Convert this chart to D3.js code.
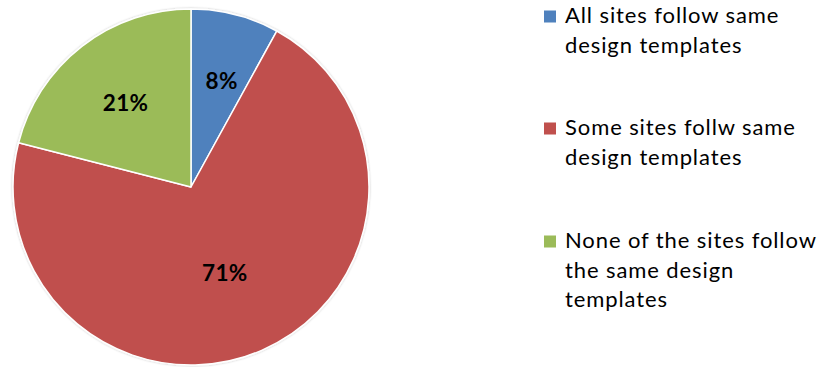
<!DOCTYPE html>
<html>
<head>
<meta charset="utf-8">
<script src="https://cdn.jsdelivr.net/npm/d3@7"></script>
<style>
  html, body { margin: 0; padding: 0; background: #fff; }
  svg { display: block; }
</style>
</head>
<body>
<svg id="chart" width="824" height="367"></svg>
<script>
// Share of sites following common design templates
const categories = [
  ["All sites follow same", "design templates"],
  ["Some sites follw same", "design templates"],
  ["None of the sites follow", "the same design", "templates"]
];
const values = [8, 71, 21];
const colors = ["#4F81BD", "#C0504D", "#9BBB59"];

const svg = d3.select("#chart");
const font = "Lato, 'Open Sans', sans-serif";

const cx = 191, cy = 187, R = 178;

const pie = d3.pie().sort(null).value(d => d)
  .startAngle(0).endAngle(2 * Math.PI);
const arcs = pie(values);
const arc = d3.arc().innerRadius(0).outerRadius(R);

const defs = svg.append("defs");
const f = defs.append("filter").attr("id", "soft")
  .attr("x", "-5%").attr("y", "-5%").attr("width", "110%").attr("height", "110%");
f.append("feDropShadow").attr("dx", 0).attr("dy", 0).attr("stdDeviation", 1)
  .attr("flood-color", "#000").attr("flood-opacity", 0.25);

const g = svg.append("g").attr("transform", `translate(${cx},${cy})`);

g.append("g").attr("filter", "url(#soft)")
  .selectAll("path").data(arcs).join("path")
  .attr("d", arc)
  .attr("fill", (d, i) => colors[i])
  .attr("stroke", "#fff")
  .attr("stroke-width", 1.5)
  .attr("stroke-linejoin", "round");

// Percent labels inside the slices
const labelRadius = [0.62, 0.52, 0.6];
const labelPos = d => {
  const r = labelRadius[d.index] * R;
  const a = (d.startAngle + d.endAngle) / 2 + (d.index === 0 ? 0.03 : d.index === 1 ? 0.035 : 0);
  return [r * Math.sin(a), -r * Math.cos(a)];
};
g.selectAll("text.pct").data(arcs).join("text")
  .attr("class", "pct")
  .attr("x", d => labelPos(d)[0])
  .attr("y", d => labelPos(d)[1])
  .attr("dy", "0.36em")
  .attr("text-anchor", "middle")
  .attr("font-family", font)
  .attr("font-weight", "bold")
  .attr("font-size", 22.5)
  .attr("letter-spacing", 0.3)
  .attr("fill", "#000")
  .text(d => d.data + "%");

// Legend
const legendBaseline = [23, 135, 248];
const lineH = 29.5;
const legend = svg.append("g");
const items = legend.selectAll("g").data(categories).join("g")
  .attr("transform", (d, i) => `translate(544,${legendBaseline[i]})`);
items.append("rect")
  .attr("x", 0).attr("y", -12.5).attr("width", 12).attr("height", 12)
  .attr("fill", (d, i) => colors[i]);
items.append("text")
  .attr("font-family", font)
  .attr("font-size", 22)
  .attr("letter-spacing", 0.9)
  .attr("fill", "#000")
  .selectAll("tspan").data(d => d).join("tspan")
  .attr("x", 21)
  .attr("y", (d, j) => j * lineH)
  .text(d => d);
</script>
</body>
</html>
